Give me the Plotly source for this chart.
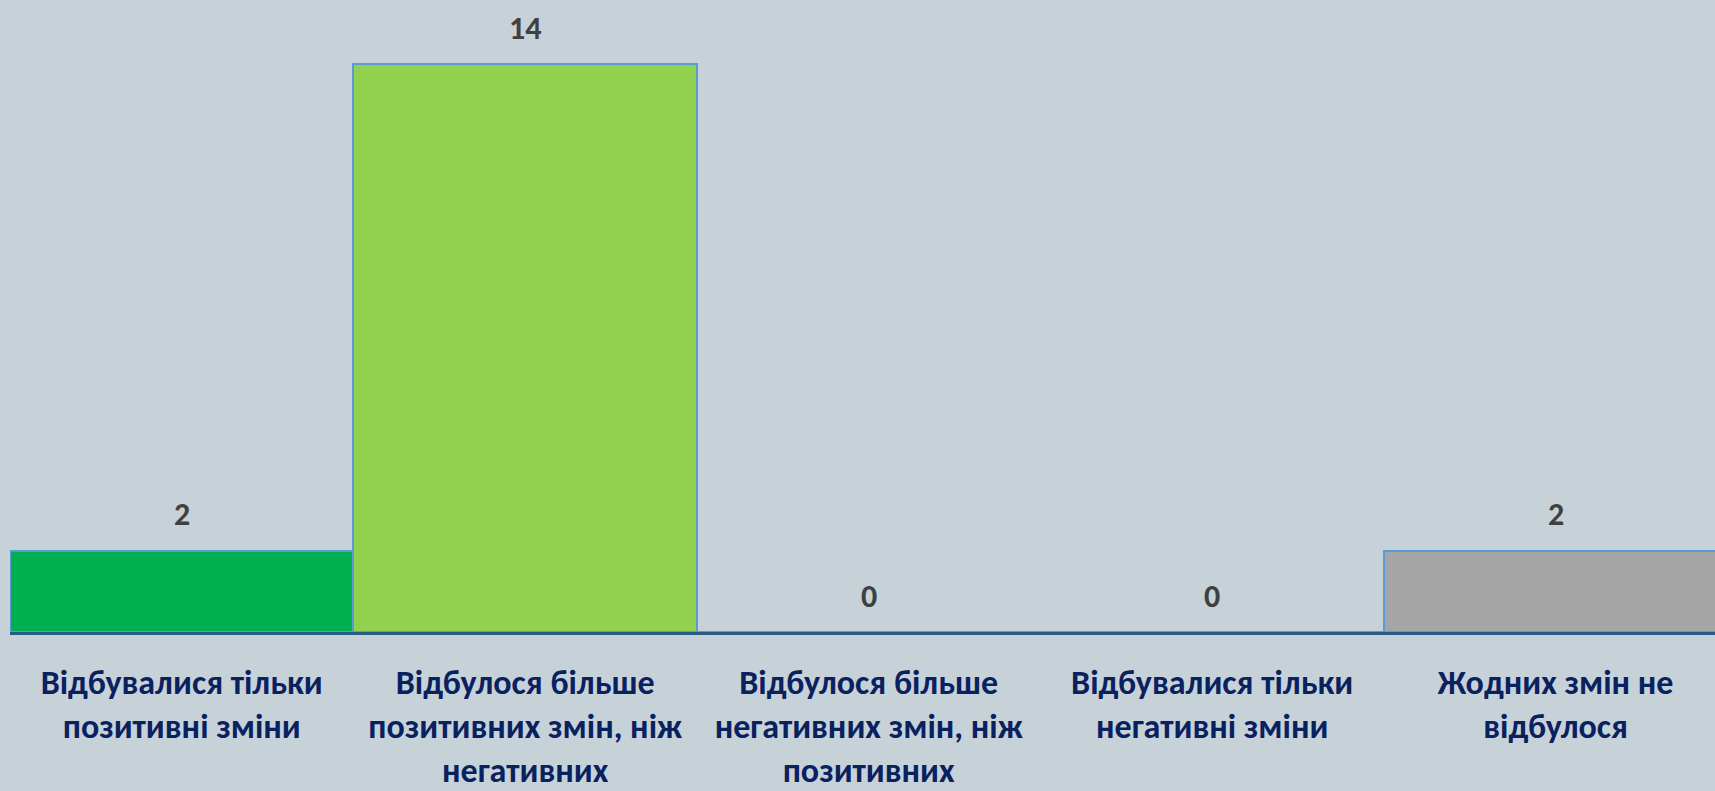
import plotly.graph_objects as go

categories = [
    "Відбувалися тільки<br>позитивні зміни",
    "Відбулося більше<br>позитивних змін, ніж<br>негативних",
    "Відбулося більше<br>негативних змін, ніж<br>позитивних",
    "Відбувалися тільки<br>негативні зміни",
    "Жодних змін не<br>відбулося",
]
values = [2, 14, 0, 0, 2]
bar_colors = ["#00B050", "#92D050", "#92D050", "#92D050", "#A5A5A5"]
value_labels = ["2", "14", "0", "0", "2"]

FONT = "Carlito, 'Liberation Sans Narrow', 'Noto Sans', sans-serif"
BG = "#C6D2D8"

fig = go.Figure()
fig.add_trace(go.Bar(
    x=list(range(len(categories))),
    y=values,
    marker=dict(color=bar_colors, line=dict(color="#5B9BD5", width=2)),
    width=1.0,
    hoverinfo="skip",
))

for i, (v, lab) in enumerate(zip(values, value_labels)):
    fig.add_annotation(
        x=i, y=v, text=f"<b>{lab}</b>", showarrow=False,
        yanchor="middle", yshift=36,
        font=dict(family=FONT, size=32, color="#404040"),
    )

fig.update_layout(
    width=1715, height=791,
    paper_bgcolor=BG, plot_bgcolor=BG,
    margin=dict(l=10, r=0, t=0, b=155),
    showlegend=False,
    bargap=0,
    xaxis=dict(
        range=[-0.5, 4.464],
        tickmode="array",
        tickvals=list(range(len(categories))),
        ticktext=[f"<b>{c}</b>" for c in categories],
        tickfont=dict(family=FONT, size=34, color="#0A2160"),
        ticks="outside", ticklen=18, tickcolor="rgba(0,0,0,0)",
        showline=True, linecolor="#2A5A86", linewidth=3,
        showgrid=False, zeroline=False, fixedrange=True,
    ),
    yaxis=dict(
        range=[0, 15.58],
        showticklabels=False, showgrid=False, zeroline=False,
        showline=False, fixedrange=True,
    ),
)

fig.write_html(
    "out.html",
    config={"displayModeBar": False},
    post_script="document.body.style.margin='0';document.body.style.overflow='hidden';"
                "document.body.style.background='" + BG + "';",
)
